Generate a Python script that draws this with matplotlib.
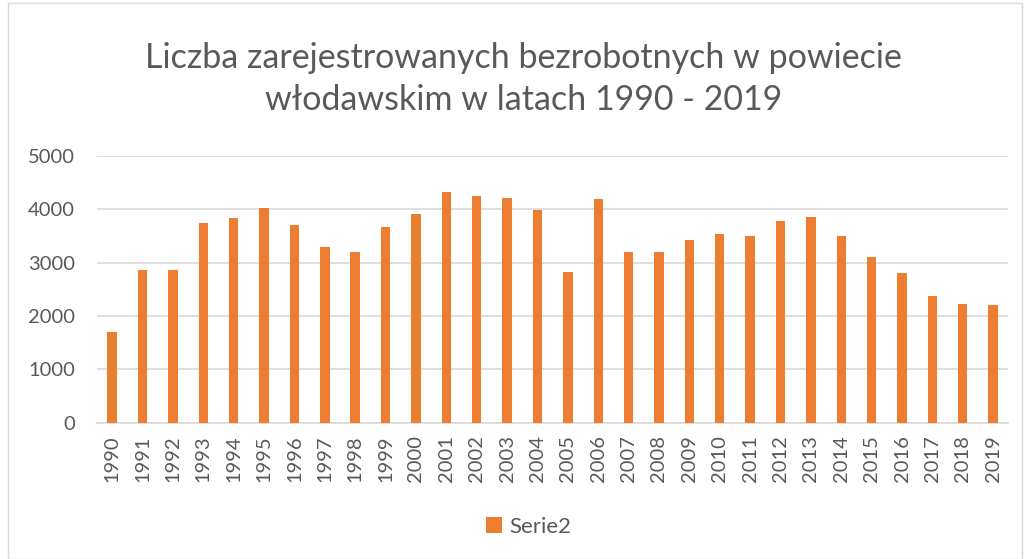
import matplotlib
matplotlib.use("Agg")
import matplotlib.pyplot as plt
from matplotlib.patches import Rectangle

years = [str(y) for y in range(1990, 2020)]
unemployed = [1690, 2870, 2860, 3745, 3830, 4030, 3710, 3300, 3195, 3660,
              3920, 4330, 4240, 4220, 3980, 2830, 4200, 3195, 3195, 3430,
              3545, 3500, 3780, 3855, 3505, 3105, 2810, 2380, 2225, 2200]
series_name = "Serie2"
title = "Liczba zarejestrowanych bezrobotnych w powiecie\nwłodawskim w latach 1990 - 2019"

plt.rcParams["font.family"] = ["Lato", "DejaVu Sans"]
text_col = "#595959"
grid_col = "#d9d9d9"

fig = plt.figure(figsize=(10.24, 5.59), dpi=100)
fig.patches.append(Rectangle((0.008, 0.0), 0.99, 0.995, transform=fig.transFigure,
                             fill=False, edgecolor=grid_col, lw=1))
ax = fig.add_axes([0.0947, 0.244, 0.890, 0.477])

ax.bar(range(len(years)), unemployed, width=0.31, color="#ED7D31", label=series_name, zorder=3)
ax.set_xlim(-0.5, len(years) - 0.5)
ax.set_ylim(0, 5000)
ax.set_yticks(range(0, 5001, 1000))
ax.set_xticks(range(len(years)))
ax.set_xticklabels(years, rotation=90)
ax.grid(axis="y", color=grid_col, lw=1.2, zorder=0)
for s in ("top", "right", "left"):
    ax.spines[s].set_visible(False)
ax.spines["bottom"].set_color(grid_col)
ax.spines["bottom"].set_linewidth(1.2)
ax.tick_params(axis="both", length=0, colors=text_col, labelsize=14.5)
ax.tick_params(axis="x", pad=9)
ax.tick_params(axis="y", pad=16)

fig.text(0.511, 1 - 79 / 559, title, ha="center", va="center", fontsize=24.5,
         color=text_col, linespacing=1.35)
fig.legend(loc="center", bbox_to_anchor=(0.516, 0.058), frameon=False, fontsize=16,
           labelcolor=text_col, handlelength=0.75, handleheight=0.75, handletextpad=0.3)

fig.savefig("out.png", dpi=100)
